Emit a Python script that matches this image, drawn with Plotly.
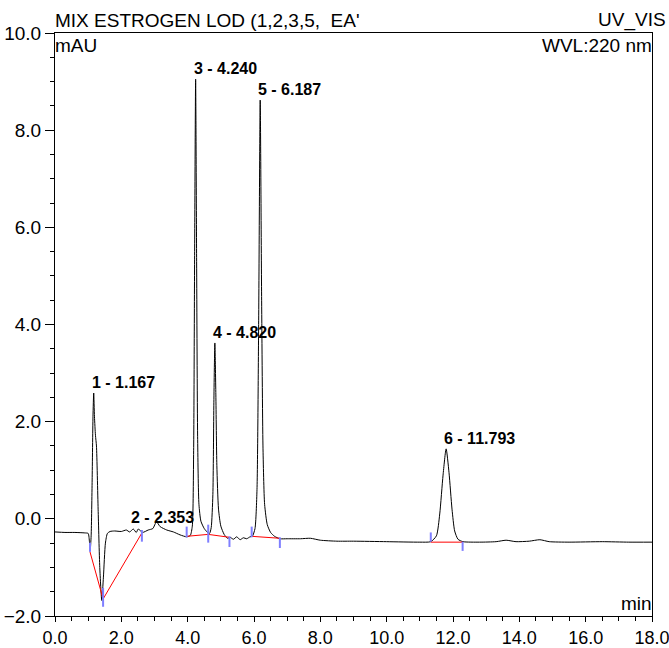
import plotly.graph_objects as go

# Chromatogram trace (time in min, signal in mAU)
time_min = [0.00, 0.30, 0.60, 0.90, 1.00, 1.04, 1.06, 1.09, 1.12, 1.145, 1.167, 1.19, 1.22, 1.25,
            1.30, 1.35, 1.41, 1.46, 1.52, 1.58, 1.66, 1.80, 2.00, 2.15, 2.25, 2.36, 2.45, 2.51,
            2.64, 2.81, 2.95, 3.06, 3.17, 3.37, 3.57, 3.77, 3.97, 4.08, 4.14, 4.18, 4.21, 4.24,
            4.27, 4.30, 4.34, 4.40, 4.50, 4.60, 4.66, 4.71, 4.76, 4.79, 4.82, 4.85, 4.88, 4.93,
            5.00, 5.10, 5.20, 5.28, 5.38, 5.48, 5.58, 5.68, 5.78, 5.88, 5.95, 6.03, 6.09, 6.14,
            6.187, 6.23, 6.27, 6.32, 6.40, 6.50, 6.62, 6.78, 7.00, 7.40, 7.70, 8.00, 8.50, 9.00,
            10.00, 11.00, 11.33, 11.50, 11.60, 11.70, 11.793, 11.88, 11.97, 12.05, 12.15, 12.30,
            12.80, 13.30, 13.60, 13.90, 14.30, 14.62, 14.90, 15.50, 16.50, 17.30, 18.00]
signal_mau = [-0.27, -0.28, -0.28, -0.29, -0.30, -0.48, -0.66, -0.35, 0.80, 2.10, 2.59, 2.10, 1.72, 1.50,
              0.20, -1.00, -1.68, -1.20, -0.50, -0.30, -0.26, -0.25, -0.26, -0.23, -0.27, -0.21, -0.28, -0.21,
              -0.28, -0.23, -0.20, -0.06, -0.16, -0.23, -0.27, -0.33, -0.37, -0.34, -0.15, 1.40, 5.50, 9.05,
              5.30, 1.70, 0.30, -0.05, -0.20, -0.28, -0.30, -0.18, 0.50, 2.40, 3.62, 2.55, 1.10, 0.20,
              -0.15, -0.32, -0.40, -0.38, -0.42, -0.37, -0.43, -0.39, -0.41, -0.37, -0.36, -0.20, 0.60, 4.00,
              8.62, 4.50, 1.50, 0.30, -0.12, -0.28, -0.36, -0.41, -0.41, -0.41, -0.40, -0.44, -0.46, -0.46,
              -0.47, -0.48, -0.47, -0.35, 0.10, 0.90, 1.44, 0.95, 0.20, -0.25, -0.42, -0.47,
              -0.48, -0.47, -0.44, -0.47, -0.46, -0.43, -0.47, -0.48, -0.47, -0.48, -0.48]

# Integration baselines (red)
base_segments = [
    ([1.055, 1.45, 2.62], [-0.68, -1.65, -0.29]),
    ([3.97, 4.62, 5.26], [-0.36, -0.32, -0.38]),
    ([5.93, 6.78], [-0.36, -0.40]),
    ([11.33, 12.30], [-0.48, -0.48]),
]

# Peak delimiters (blue marks)
delim_time = [1.055, 1.45, 2.62, 3.97, 4.62, 5.26, 5.93, 6.78, 11.33, 12.29]
delim_low = [-0.68, -1.81, -0.47, -0.38, -0.49, -0.58, -0.38, -0.60, -0.47, -0.66]
delim_high = [-0.49, -1.42, -0.23, -0.16, -0.12, -0.36, -0.16, -0.38, -0.28, -0.47]

# Peak labels
peak_num = [1, 2, 3, 4, 5, 6]
peak_rt = [1.167, 2.353, 4.240, 4.820, 6.187, 11.793]
peak_top = [2.59, -0.19, 9.05, 3.62, 8.62, 1.44]

FONT = "Liberation Sans, Arial, sans-serif"

fig = go.Figure()
fig.add_trace(go.Scatter(x=time_min, y=signal_mau, mode="lines", line=dict(color="black", width=1, shape="spline", smoothing=0.6), hoverinfo="skip"))
for xs, ys in base_segments:
    fig.add_trace(go.Scatter(x=xs, y=ys, mode="lines", line=dict(color="#ff0000", width=1), hoverinfo="skip"))
dx, dy = [], []
for t, lo, hi in zip(delim_time, delim_low, delim_high):
    dx += [t, t, None]
    dy += [lo, hi, None]
fig.add_trace(go.Scatter(x=dx, y=dy, mode="lines", line=dict(color="#7f7fff", width=2), hoverinfo="skip"))

for n, rt, top in zip(peak_num, peak_rt, peak_top):
    fig.add_annotation(x=rt, y=top, xref="x", yref="y", text=f"<b>{n} - {rt:.3f}</b>", showarrow=False,
                       xanchor="left", yanchor="bottom", xshift=-4, yshift=0,
                       font=dict(family=FONT, size=16, color="black"))

def paper_text(text, x, y, xanchor, yanchor):
    fig.add_annotation(x=x, y=y, xref="paper", yref="paper", text=text, showarrow=False,
                       xanchor=xanchor, yanchor=yanchor, xshift=0,
                       font=dict(family=FONT, size=19, color="black"))

paper_text("MIX ESTROGEN LOD (1,2,3,5,  EA'", -0.003, 1.0, "left", "bottom")
paper_text("UV_VIS", 1.026, 1.0, "right", "bottom")
paper_text("mAU", -0.003, 1.0, "left", "top")
paper_text("WVL:220 nm", 1.003, 1.0, "right", "top")
paper_text("min", 1.003, 0.0, "right", "bottom")

axis_common = dict(showline=True, linecolor="black", linewidth=1, mirror=True, showgrid=False, zeroline=False,
                   ticks="outside", tickcolor="black", tickformat=".1f", automargin=False,
                   ticklabeloverflow="allow")
fig.update_xaxes(range=[0, 18], tick0=0, dtick=2, ticklen=5,
                 tickfont=dict(family=FONT, size=18, color="black"),
                 minor=dict(ticks="outside", ticklen=4, tickcolor="black", dtick=0.5, showgrid=False),
                 **axis_common)
fig.update_yaxes(range=[-2, 10], tick0=0, dtick=2, ticklen=9,
                 tickfont=dict(family=FONT, size=19, color="black"),
                 minor=dict(ticks="outside", ticklen=4, tickcolor="black", dtick=0.5, showgrid=False),
                 **axis_common)
fig.update_layout(width=669, height=648, margin=dict(l=55, r=17, t=33, b=32),
                  plot_bgcolor="white", paper_bgcolor="white", showlegend=False)
fig.write_html("out.html", config={"displayModeBar": False})
